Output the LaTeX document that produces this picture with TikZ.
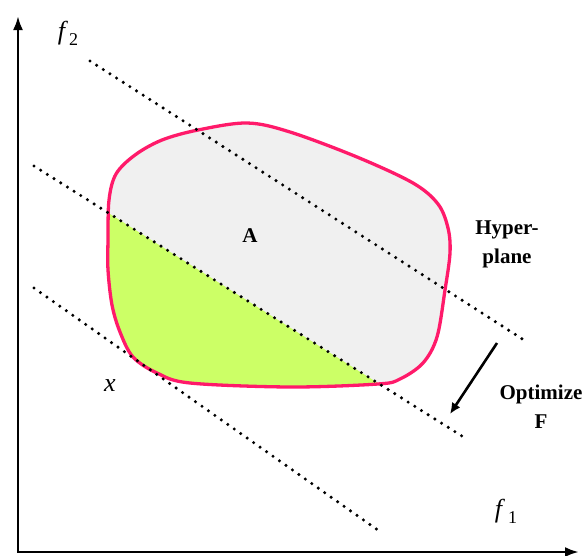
\documentclass[tikz,border=0pt]{standalone}
\usepackage{fontspec}
\setmainfont{Liberation Serif}
\usetikzlibrary{arrows.meta}
\definecolor{pinkline}{HTML}{FF1A6A}
\definecolor{regiongray}{HTML}{F0F0F0}
\definecolor{regiongreen}{HTML}{CCFF66}
\begin{document}
\begin{tikzpicture}[x=1pt,y=-1pt,
  axis/.style={line width=2.6pt},
  hyper/.style={line width=3.4pt,line cap=round,dash pattern=on 0pt off 7.9pt},
  lbl/.style={font=\fontsize{21}{29}\selectfont\bfseries,align=center,inner sep=0pt},
  var/.style={font=\fontsize{26}{28}\selectfont,inner sep=0pt},
  outline/.style={draw=pinkline,line width=3.3pt}]
\useasboundingbox (0,0) rectangle (584,555);
% region
\fill[regiongray] plot[smooth cycle,tension=0.55] coordinates {
 (108,240) (109,200) (116,174) (135,155) (162,140) (198,130) (247,123) (290,132)
 (357,157) (413,183) (438,204) (448,228) (450,253) (445,290) (437,337) (423,363)
 (400,379) (378,384) (290,387) (190,383) (157,373) (133,357) (120,332) (112,305) (108,270)};
\begin{scope}
\clip plot[smooth cycle,tension=0.55] coordinates {
 (108,240) (109,200) (116,174) (135,155) (162,140) (198,130) (247,123) (290,132)
 (357,157) (413,183) (438,204) (448,228) (450,253) (445,290) (437,337) (423,363)
 (400,379) (378,384) (290,387) (190,383) (157,373) (133,357) (120,332) (112,305) (108,270)};
\fill[regiongreen] (34,166) -- (480,447.5) -- (0,447.5) -- cycle;
\end{scope}
\draw[outline] plot[smooth cycle,tension=0.55] coordinates {
 (108,240) (109,200) (116,174) (135,155) (162,140) (198,130) (247,123) (290,132)
 (357,157) (413,183) (438,204) (448,228) (450,253) (445,290) (437,337) (423,363)
 (400,379) (378,384) (290,387) (190,383) (157,373) (133,357) (120,332) (112,305) (108,270)};
% hyperplanes
\coordinate (h1s) at (90,61);
\coordinate (h1e) at (527,342);
\coordinate (h2s) at (34,166);
\coordinate (h2e) at (465,438);
\coordinate (h3s) at (34,288);
\coordinate (h3e) at (382,533);
\draw[hyper] (h1s) -- (h1e);
\draw[hyper] (h2s) -- (h2e);
\draw[hyper] (h3s) -- (h3e);
% axes
\coordinate (O) at (18,552);
\coordinate (ytop) at (18,16);
\coordinate (xend) at (579,552);
\draw[axis,{Latex[length=14pt,width=10pt]}-{Latex[length=14pt,width=10pt]}] (ytop) -- (O) -- (xend);
% optimize arrow
\coordinate (optS) at (497,343);
\coordinate (optE) at (450,414);
\draw[line width=2.6pt,-{Latex[length=11pt,width=10pt]}] (optS) -- (optE);
% labels
\node[var] (f2) at (68,33) {\textit{f}\hspace{1pt}{\fontsize{18}{18}\selectfont\raisebox{-6pt}{2}}};
\node[var] (f1) at (506,511) {\textit{f}\hspace{3pt}{\fontsize{18}{18}\selectfont\raisebox{-6pt}{1}}};
\node[var] (x) at (110,386) {\textit{x}};
\node[lbl] (A) at (250,236) {A};
\node[lbl] (hyp) at (507,244) {Hyper-\\plane};
\node[lbl] (opt) at (541,407) {Optimize\\F};
\end{tikzpicture}
\end{document}
